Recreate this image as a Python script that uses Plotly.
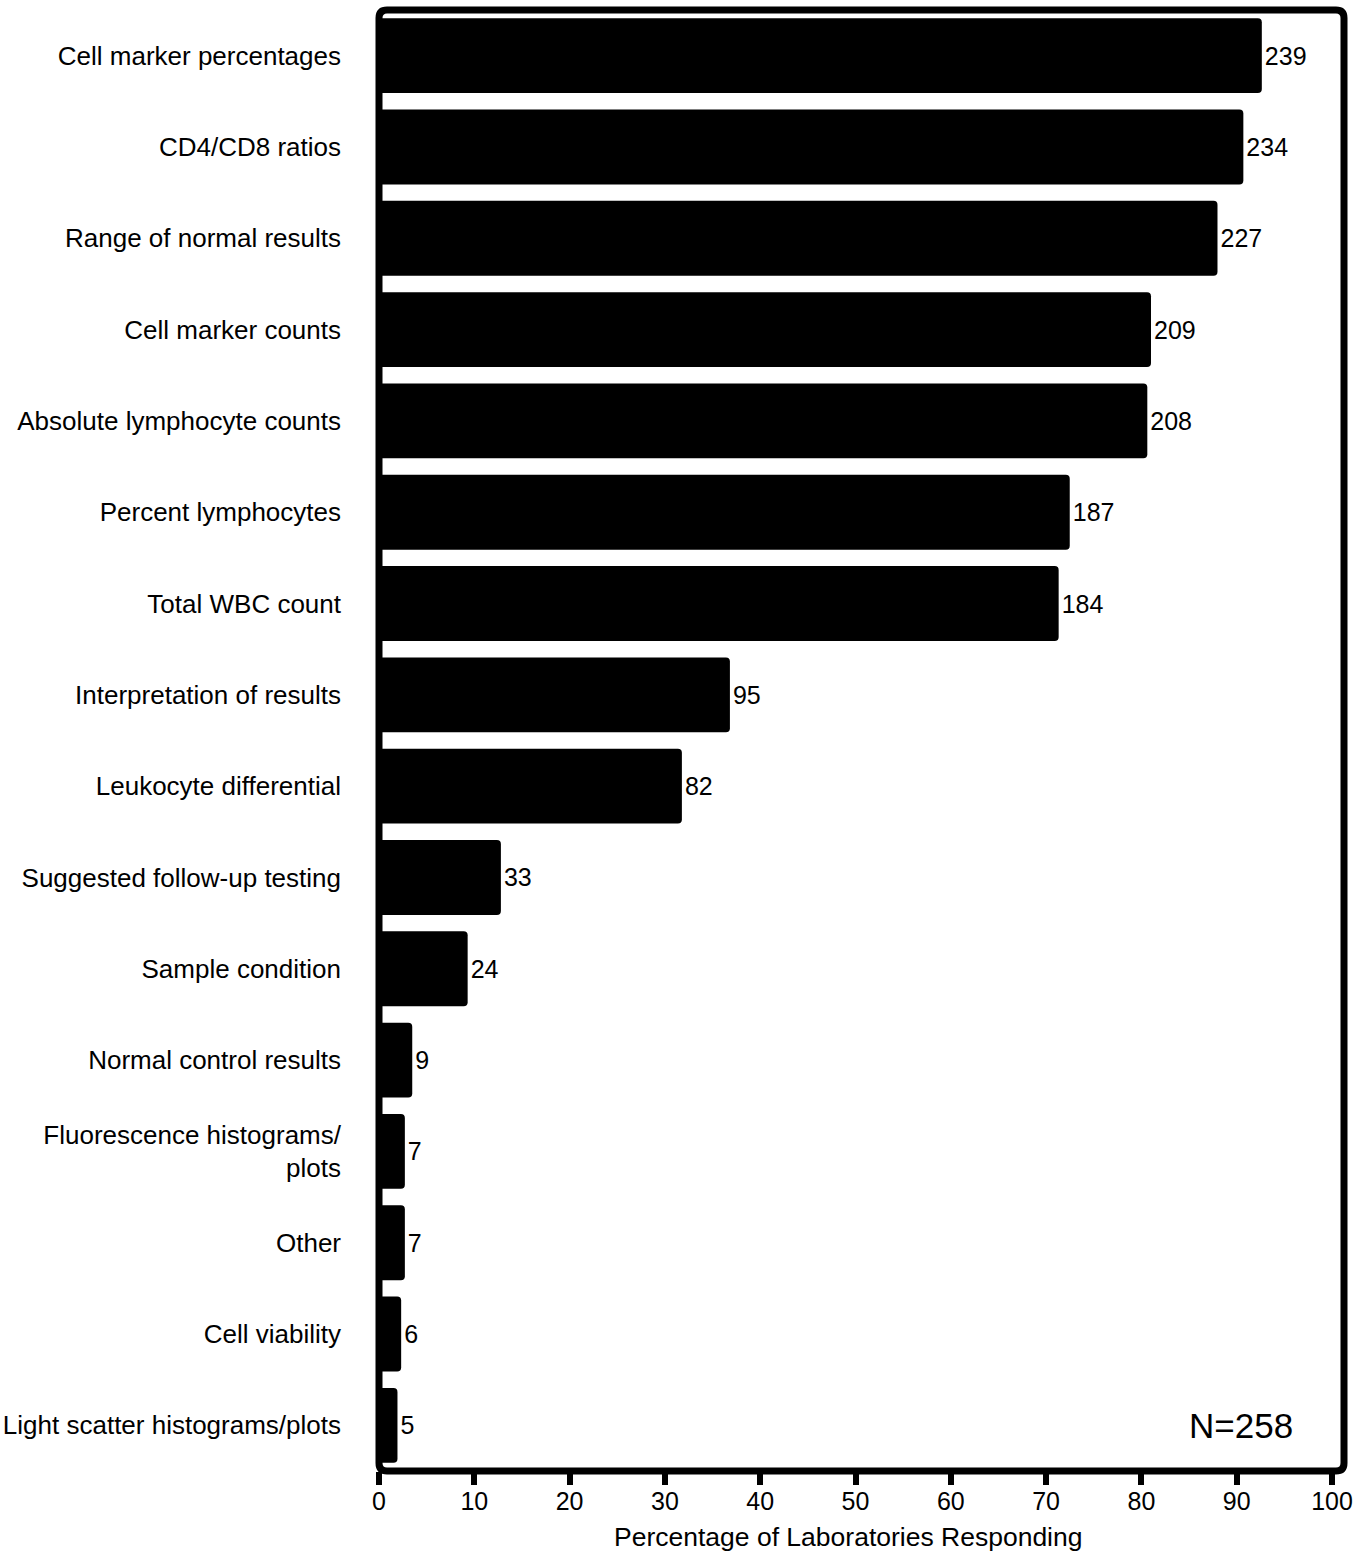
import plotly.graph_objects as go

categories = [
    "Cell marker percentages",
    "CD4/CD8 ratios",
    "Range of normal results",
    "Cell marker counts",
    "Absolute lymphocyte counts",
    "Percent lymphocytes",
    "Total WBC count",
    "Interpretation of results",
    "Leukocyte differential",
    "Suggested follow-up testing",
    "Sample condition",
    "Normal control results",
    "Fluorescence histograms/<br>plots",
    "Other",
    "Cell viability",
    "Light scatter histograms/plots",
]
counts = [239, 234, 227, 209, 208, 187, 184, 95, 82, 33, 24, 9, 7, 7, 6, 5]
n_total = 258
percentages = [c / n_total * 100 for c in counts]
x_ticks = list(range(0, 101, 10))

FONT = "Liberation Sans, Arial, sans-serif"

W, H = 1354, 1556
ml, mr, mt, mb = 379, 10, 10, 85
pw = W - ml - mr
ph = H - mt - mb
px_per_unit = 9.53
xmax = pw / px_per_unit

fig = go.Figure(
    go.Bar(
        x=percentages,
        y=categories,
        orientation="h",
        marker=dict(color="black", line=dict(width=0), cornerradius=4),
        text=[str(c) for c in counts],
        textposition="outside",
        textfont=dict(size=25, color="black", family=FONT),
        cliponaxis=False,
        hoverinfo="skip",
    )
)

# rounded frame around the plot area
rx = 8 / pw
ry = 8 / ph
path = (
    f"M {rx},0 L {1-rx},0 Q 1,0 1,{ry} L 1,{1-ry} Q 1,1 {1-rx},1 "
    f"L {rx},1 Q 0,1 0,{1-ry} L 0,{ry} Q 0,0 {rx},0 Z"
)
fig.add_shape(type="path", path=path, xref="paper", yref="paper",
              line=dict(color="black", width=7), layer="above")

fig.add_annotation(text="N=258", x=(1295 - ml) / pw, y=(1471 - 1425) / ph,
                   xref="paper", yref="paper", xanchor="right", yanchor="middle",
                   showarrow=False, font=dict(size=35, color="black", family=FONT))
fig.add_annotation(text="Percentage of Laboratories Responding",
                   x=(848 - ml) / pw, y=(1471 - 1537) / ph,
                   xref="paper", yref="paper", xanchor="center", yanchor="middle",
                   showarrow=False, font=dict(size=26.5, color="black", family=FONT))

fig.update_layout(
    template="none",
    width=W, height=H,
    margin=dict(l=ml, r=mr, t=mt, b=mb, pad=0, autoexpand=False),
    paper_bgcolor="white", plot_bgcolor="white",
    bargap=0.18,
    showlegend=False,
    font=dict(family=FONT, color="black"),
)
fig.update_xaxes(
    automargin=False,
    range=[0, xmax], tickvals=x_ticks, ticktext=[str(v) for v in x_ticks],
    ticks="outside", ticklen=13, tickwidth=6, tickcolor="black",
    ticklabelstandoff=-5,
    showgrid=False, zeroline=False, showline=False,
    tickfont=dict(size=25, color="black", family=FONT),
)
fig.update_yaxes(
    automargin=False,
    autorange="reversed", showgrid=False, zeroline=False, showline=False,
    ticks="", ticklabelstandoff=37,
    tickfont=dict(size=26, color="black", family=FONT),
)

fig.write_html(
    "out.html",
    config={"displayModeBar": False},
    post_script="document.body.style.margin='0';document.body.style.overflow='hidden';",
)
